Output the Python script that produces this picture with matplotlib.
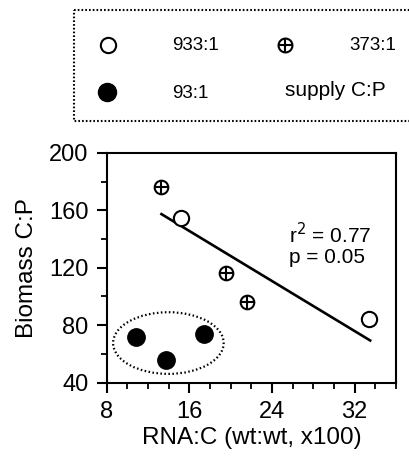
import matplotlib
matplotlib.use("Agg")
import matplotlib.pyplot as plt
from matplotlib.patches import Ellipse, Rectangle
import numpy as np

plt.rcParams['font.family'] = ['Liberation Sans', 'DejaVu Sans']

# Data
open_x = [15.2, 33.4]          # 933:1
open_y = [155, 84]
cross_x = [13.3, 19.5, 21.6]   # 373:1
cross_y = [176, 116, 96]
filled_x = [10.8, 13.7, 17.4]  # 93:1
filled_y = [72, 56, 74]
fit_x = [13.3, 33.5]
fit_y = [157.4, 69.3]
xticks = [8, 16, 24, 32]
yticks = [40, 80, 120, 160, 200]
r2_text = "r$^2$ = 0.77"
p_text = "p = 0.05"

W, H = 409, 458
fig = plt.figure(figsize=(W / 100, H / 100), dpi=100)

ax = fig.add_axes([106.7 / W, 1 - 382.5 / H, (396 - 106.7) / W, (382.5 - 153) / H])
ax.set_xlim(8, 36)
ax.set_ylim(40, 200)

ax.plot(fit_x, fit_y, color='black', lw=1.9, zorder=2)
ax.plot(open_x, open_y, 'o', ms=11, mfc='white', mec='black', mew=1.5, zorder=3)
ax.plot(cross_x, cross_y, 'o', ms=9.8, mfc='white', mec='black', mew=1.5, zorder=3)
ax.plot(cross_x, cross_y, '+', ms=9.8, mec='black', mew=1.5, zorder=4)
ax.plot(filled_x, filled_y, 'o', ms=12.5, mfc='black', mec='black', zorder=3)

ell = Ellipse((13.97, 67.5), 10.7, 43, fill=False, ec='black', lw=1.6,
              linestyle=(0, (0.7, 1.1)), zorder=2)
ax.add_patch(ell)

ax.text(25.6, 142.8, r2_text, fontsize=15, va='center', ha='left')
ax.text(25.6, 126.8, p_text, fontsize=15, va='center', ha='left')

for s in ax.spines.values():
    s.set_linewidth(1.5)
ax.set_xticks(xticks)
ax.set_yticks(yticks)
ax.set_xticks(np.arange(8, 37, 2), minor=True)
ax.set_yticks(np.arange(40, 201, 20), minor=True)
ax.tick_params(which='major', direction='out', length=7, width=1.5, labelsize=17, pad=6)
ax.tick_params(which='minor', direction='out', length=4, width=1.3)
ax.set_xlabel("RNA:C (wt:wt, x100)", fontsize=17.5, labelpad=3)
ax.set_ylabel("Biomass C:P", fontsize=17.5, labelpad=8)

# Legend box (figure pixel coords overlay)
lax = fig.add_axes([0, 0, 1, 1], zorder=-1)
lax.set_xlim(0, W)
lax.set_ylim(H, 0)
lax.axis('off')
lax.add_patch(Rectangle((74, 10), 360, 111, fill=False, ec='black', lw=1.5,
                        linestyle=(0, (0.8, 1.0))))
lax.plot([108], [45], 'o', ms=11, mfc='white', mec='black', mew=1.5)
lax.plot([107], [92], 'o', ms=13, mfc='black', mec='black')
lax.plot([285], [45], 'o', ms=10, mfc='white', mec='black', mew=1.5)
lax.plot([285], [45], '+', ms=10, mec='black', mew=1.5)
lax.text(172, 46, "933:1", fontsize=13.5, va='center', ha='left')
lax.text(172, 93, "93:1", fontsize=13.5, va='center', ha='left')
lax.text(349, 46, "373:1", fontsize=13.5, va='center', ha='left')
lax.text(285, 90, "supply C:P", fontsize=15, va='center', ha='left')

fig.savefig("out.png", dpi=100)
